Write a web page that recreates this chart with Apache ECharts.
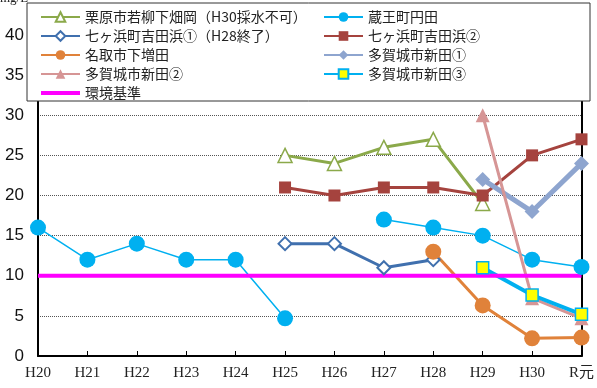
<!DOCTYPE html>
<html>
<head>
<meta charset="utf-8">
<script src="https://cdn.jsdelivr.net/npm/echarts@6/dist/echarts.min.js"></script>
<style>
html,body{margin:0;padding:0;background:#fff;}
#chart{width:597px;height:388px;}
</style>
</head>
<body>
<div id="chart"></div>
<script>
// Fiscal years on the x axis
const years = ['H20','H21','H22','H23','H24','H25','H26','H27','H28','H29','H30','R元'];

// Measured concentrations (mg/L); null = not measured
const kurihara   = [null,null,null,null,null,25,24,26,27,19,null,null];
const zao        = [16,12,14,12,12,4.7,null,17,16,15,12,11.1];
const shichi1    = [null,null,null,null,null,14,14,11,12,null,null,null];
const shichi2    = [null,null,null,null,null,21,20,21,21,20,25,27];
const natori     = [null,null,null,null,null,null,null,null,13,6.3,2.2,2.3];
const tagajo1    = [null,null,null,null,null,null,null,null,null,22,18,24];
const tagajo2    = [null,null,null,null,null,null,null,null,null,30,7.2,4.7];
const tagajo3    = [null,null,null,null,null,null,null,null,null,11,7.6,5.2];
const standard   = [10,10,10,10,10,10,10,10,10,10,10,10];

// Y axis range
const yMin = 0, yMax = 40, yStep = 5;

const chart = echarts.init(document.getElementById('chart'));

function lineSeries(name, data, color, width, symbol, size, fill, borderColor, borderWidth) {
  return {
    name: name,
    type: 'line',
    data: data,
    symbol: symbol,
    symbolSize: size,
    showAllSymbol: true,
    lineStyle: { color: color, width: width },
    itemStyle: { color: fill, borderColor: borderColor, borderWidth: borderWidth },
    emphasis: { disabled: true },
    animation: false
  };
}

const legendText = { fontFamily: '"Noto Sans CJK JP"', fontSize: 14, color: '#222', lineHeight: 14 };

chart.setOption({
  animation: false,
  backgroundColor: '#fff',
  grid: { left: 38, right: 14, top: 35, bottom: 32, containLabel: false },
  xAxis: {
    type: 'category',
    data: years,
    boundaryGap: false,
    axisLine: { lineStyle: { color: '#000', width: 2 } },
    axisTick: { inside: true, length: 5, lineStyle: { color: '#000', width: 1 } },
    axisLabel: { fontFamily: '"Liberation Serif", "Noto Sans CJK JP"', fontSize: 15, color: '#222', margin: 10 },
    splitLine: { show: false }
  },
  yAxis: [{
    type: 'value',
    min: yMin, max: yMax, interval: yStep,
    axisLine: { show: true, lineStyle: { color: '#000', width: 2 } },
    axisTick: { show: false },
    axisLabel: { fontFamily: '"Liberation Sans", Arial', fontSize: 17, color: '#111', margin: 14 },
    splitLine: { show: true, lineStyle: { color: '#555', type: 'dotted', width: 1 } }
  }, {
    type: 'value',
    position: 'right',
    min: yMin, max: yMax, interval: yStep,
    axisLine: { show: true, lineStyle: { color: '#000', width: 2 } },
    axisTick: { show: false },
    axisLabel: { show: false },
    splitLine: { show: false }
  }],
  legend: [{
    orient: 'vertical',
    left: 35, top: 5,
    itemWidth: 39, itemHeight: 12, itemGap: 5, itemTextGap: 4,
    textStyle: legendText,
    z: 20,
    data: ['栗原市若柳下畑岡（H30採水不可）','七ヶ浜町吉田浜①（H28終了）','名取市下増田','多賀城市新田②',
      { name: '環境基準', icon: 'path://M0,0H39V4H0Z' }]
  }, {
    orient: 'vertical',
    left: 318, top: 5,
    itemWidth: 39, itemHeight: 12, itemGap: 5, itemTextGap: 4,
    textStyle: legendText,
    z: 20,
    data: ['蔵王町円田','七ヶ浜町吉田浜②','多賀城市新田①','多賀城市新田③']
  }],
  graphic: [{
    type: 'rect',
    z: 15,
    shape: { x: 27, y: 3, width: 563, height: 98 },
    style: { fill: '#fff', stroke: '#333', lineWidth: 1 }
  }, {
    type: 'text',
    z: 15,
    left: 0, top: -8,
    style: { text: 'mg/L', font: '13px "Liberation Serif"', fill: '#222' }
  }],
  series: [
    lineSeries('栗原市若柳下畑岡（H30採水不可）', kurihara, '#8BA94A', 3, 'triangle', 14, '#fff', '#8BA94A', 1.5),
    lineSeries('蔵王町円田', zao, '#00B0F0', 1.5, 'circle', 16, '#00B0F0', '#00B0F0', 0),
    lineSeries('七ヶ浜町吉田浜①（H28終了）', shichi1, '#4070AE', 3, 'diamond', 13, '#fff', '#4070AE', 2),
    lineSeries('七ヶ浜町吉田浜②', shichi2, '#A5433E', 3, 'rect', 12, '#A5433E', '#A5433E', 0),
    lineSeries('名取市下増田', natori, '#E0823A', 3, 'circle', 16, '#E0823A', '#E0823A', 0),
    lineSeries('多賀城市新田①', tagajo1, '#8EA5CF', 5, 'diamond', 15, '#8EA5CF', '#8EA5CF', 0),
    lineSeries('多賀城市新田②', tagajo2, '#D69595', 3, 'triangle', 14, '#D69595', '#D69595', 0),
    lineSeries('多賀城市新田③', tagajo3, '#00B0F0', 4, 'rect', 12, '#FFFF00', '#00B0F0', 1.5),
    Object.assign(lineSeries('環境基準', standard, '#FF00FF', 4, 'none', 0, '#FF00FF', '#FF00FF', 0), { showSymbol: false })
  ]
});
</script>
</body>
</html>
